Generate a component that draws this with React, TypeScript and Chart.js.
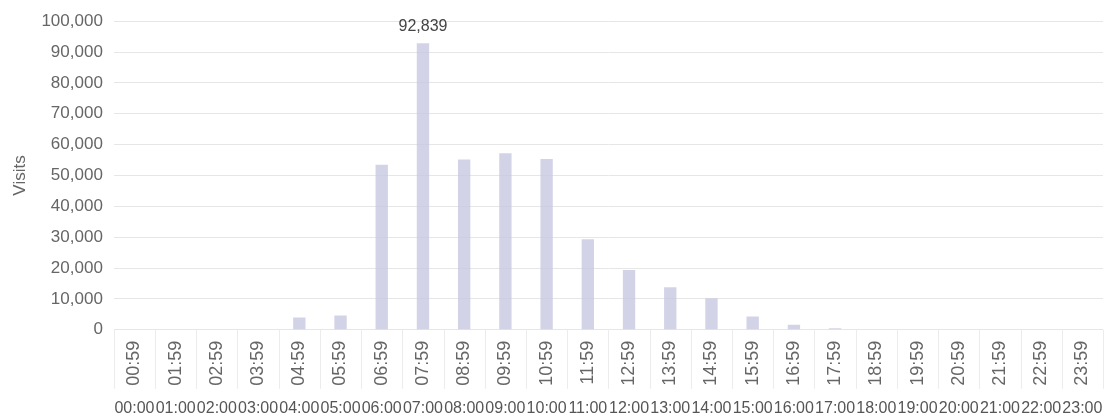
import React, { useEffect, useRef } from "react";
import { Chart, registerables } from "chart.js";

Chart.register(...registerables);

const endLabels = ["00:59","01:59","02:59","03:59","04:59","05:59","06:59","07:59","08:59","09:59","10:59","11:59","12:59","13:59","14:59","15:59","16:59","17:59","18:59","19:59","20:59","21:59","22:59","23:59"];
const startLabels = ["00:00","01:00","02:00","03:00","04:00","05:00","06:00","07:00","08:00","09:00","10:00","11:00","12:00","13:00","14:00","15:00","16:00","17:00","18:00","19:00","20:00","21:00","22:00","23:00"];
const visits = [0, 0, 0, 0, 4000, 4600, 53500, 92839, 55200, 57200, 55300, 29300, 19400, 13800, 10200, 4300, 1600, 500, 0, 0, 0, 0, 0, 0];

const FONT = "Arial, 'Liberation Sans', sans-serif";

const peakLabelPlugin = {
  id: "peakLabel",
  afterDatasetsDraw(chart: any) {
    const ds = chart.data.datasets[0].data as number[];
    let maxI = 0;
    ds.forEach((v, i) => { if (v > ds[maxI]) maxI = i; });
    const bar = chart.getDatasetMeta(0).data[maxI];
    if (!bar) return;
    const ctx = chart.ctx;
    ctx.save();
    ctx.font = "16px " + FONT;
    ctx.fillStyle = "#444";
    ctx.textAlign = "center";
    ctx.textBaseline = "bottom";
    ctx.fillText(ds[maxI].toLocaleString("en-US"), bar.x, bar.y - 9);
    ctx.restore();
  },
};

const separatorPlugin = {
  id: "separators",
  afterDraw(chart: any) {
    const xs = chart.scales.xEnd;
    const ctx = chart.ctx;
    ctx.save();
    ctx.strokeStyle = "#ececec";
    ctx.lineWidth = 1;
    const n = xs.ticks.length;
    for (let i = 0; i <= n; i++) {
      const px = Math.round(xs.getPixelForValue(i - 0.5)) + 0.5;
      ctx.beginPath();
      ctx.moveTo(px, xs.top);
      ctx.lineTo(px, xs.bottom);
      ctx.stroke();
    }
    ctx.restore();
  },
};

export default function App() {
  const ref = useRef<HTMLCanvasElement | null>(null);
  useEffect(() => {
    if (!ref.current) return;
    const chart = new Chart(ref.current, {
      type: "bar",
      data: {
        labels: startLabels,
        datasets: [
          {
            label: "Visits",
            data: visits,
            backgroundColor: "rgba(200,200,226,0.8)",
            barPercentage: 0.3,
            categoryPercentage: 1,
            xAxisID: "x",
          },
        ],
      },
      options: {
        animation: false,
        responsive: true,
        maintainAspectRatio: false,
        layout: { padding: { top: 14, right: 6, left: 6, bottom: 0 } },
        plugins: { legend: { display: false }, tooltip: { enabled: false } },
        scales: {
          x: {
            type: "category",
            position: "bottom",
            weight: 1,
            grid: { display: false },
            border: { display: false },
            ticks: {
              minRotation: 0,
              maxRotation: 0,
              autoSkip: false,
              padding: 2,
              color: "#555",
              font: { size: 16, family: FONT },
            },
          },
          xEnd: {
            type: "category",
            position: "bottom",
            weight: 0,
            labels: endLabels,
            offset: true,
            grid: { display: false },
            border: { display: false },
            ticks: {
              minRotation: 90,
              maxRotation: 90,
              autoSkip: false,
              padding: 3,
              color: "#666",
              font: { size: 18, family: FONT },
            },
          },
          y: {
            min: 0,
            max: 100000,
            ticks: {
              stepSize: 10000,
              padding: 11,
              color: "#666",
              font: { size: 17, family: FONT },
              callback: (v: any) => Number(v).toLocaleString("en-US"),
            },
            grid: { color: "#e6e6e6", drawTicks: false },
            border: { display: false },
            title: {
              display: true,
              text: "Visits",
              color: "#666",
              padding: { top: 4, bottom: 0 },
              font: { size: 17, family: FONT },
            },
          },
        },
      },
      plugins: [peakLabelPlugin, separatorPlugin],
    });
    return () => chart.destroy();
  }, []);
  return (
    <div style={{ position: "fixed", left: 0, top: 0, width: 1109, height: 420, background: "#fff" }}>
      <canvas ref={ref} />
    </div>
  );
}
